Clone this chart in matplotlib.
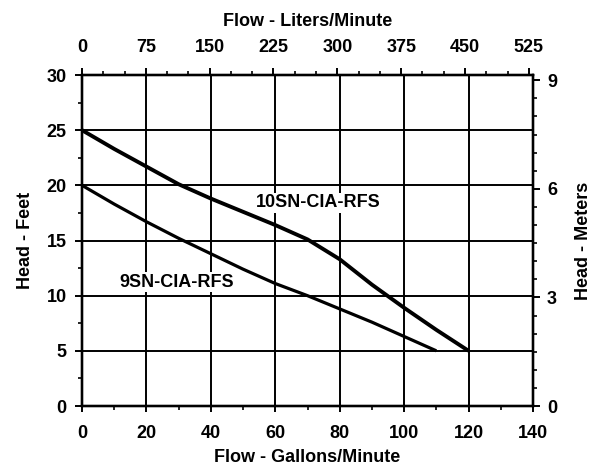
import numpy as np
import matplotlib
matplotlib.use('Agg')
from matplotlib import pyplot as plt
from matplotlib.ticker import MultipleLocator

plt.rcParams['font.family'] = ['Liberation Sans', 'DejaVu Sans']
plt.rcParams['font.weight'] = 'bold'

# расход, галлоны/мин
flow_9 = [0, 10, 20, 30, 40, 50, 60, 70, 80, 90, 100, 110]
head_9 = [20, 18.3, 16.7, 15.2, 13.8, 12.4, 11.1, 10.0, 8.8, 7.6, 6.3, 5]

flow_10 = [0, 10, 20, 30, 40, 50, 60, 70, 80, 90, 100, 110, 120]
head_10 = [25, 23.3, 21.7, 20.1, 18.8, 17.6, 16.4, 15.1, 13.3, 11.0, 8.9, 6.9, 5]

label_9 = '9SN-CIA-RFS'
label_10 = '10SN-CIA-RFS'

GAL_TO_L = 3.785
FT_TO_M = 0.3048
FS = 13

fig = plt.figure(figsize=(6.02, 4.65), dpi=100)
ax = fig.add_axes([82 / 602, 59 / 465, 451 / 602, 331 / 465])

ax.plot(flow_10, head_10, color='black', lw=2.8, solid_capstyle='butt')
ax.plot(flow_9, head_9, color='black', lw=2.3, solid_capstyle='butt')

ax.set_xlim(0, 140)
ax.set_ylim(0, 30)
ax.xaxis.set_major_locator(MultipleLocator(20))
ax.xaxis.set_minor_locator(MultipleLocator(10))
ax.yaxis.set_major_locator(MultipleLocator(5))
ax.yaxis.set_minor_locator(MultipleLocator(2.5))
ax.grid(True, which='major', color='black', lw=1.4)
ax.set_axisbelow(True)

box = dict(facecolor='white', edgecolor='none', pad=1)
ax.text(73.3, 18.4, label_10, ha='center', va='center', fontsize=FS, fontweight='bold', bbox=box)
ax.text(29.4, 11.2, label_9, ha='center', va='center', fontsize=FS, fontweight='bold', bbox=box)

ax.set_xlabel('Flow - Gallons/Minute', fontsize=FS, fontweight='bold', labelpad=5)
ax.set_ylabel('Head - Feet', fontsize=FS, fontweight='bold', labelpad=9)

# верхняя ось - литры
ax_top = ax.twiny()
ax_top.set_xlim(0, 140 * GAL_TO_L)
ax_top.xaxis.set_major_locator(MultipleLocator(75))
ax_top.xaxis.set_minor_locator(MultipleLocator(25))
ax_top.set_xlabel('Flow - Liters/Minute', fontsize=FS, fontweight='bold', labelpad=9)

# правая ось - метры
ax_right = ax.twinx()
ax_right.set_ylim(0, 30 * FT_TO_M)
ax_right.yaxis.set_major_locator(MultipleLocator(3))
ax_right.yaxis.set_minor_locator(MultipleLocator(0.5))
ax_right.set_ylabel('Head - Meters', fontsize=FS, fontweight='bold', labelpad=13)

for a in (ax, ax_top, ax_right):
    for s in a.spines.values():
        s.set_linewidth(1.6)
    a.tick_params(which='major', direction='out', length=5, width=1.4, labelsize=FS)
    a.tick_params(which='minor', direction='out', length=3, width=1.2)

ax.tick_params(axis='x', which='major', direction='inout', length=8, pad=10)
ax.tick_params(axis='y', pad=6)
ax_top.tick_params(axis='x', pad=9)
ax_right.tick_params(axis='y', pad=5)

fig.savefig('out.png', dpi=100)
